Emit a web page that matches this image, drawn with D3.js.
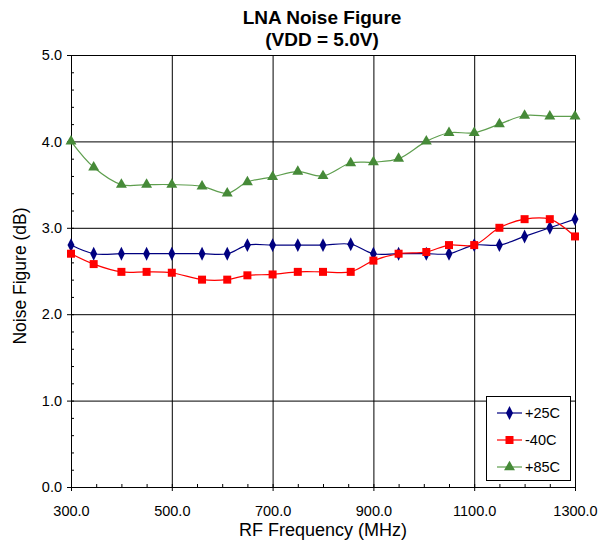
<!DOCTYPE html>
<html>
<head>
<meta charset="utf-8">
<script src="https://cdn.jsdelivr.net/npm/d3@7"></script>
<style>
  body { margin: 0; background: #fff; }
  svg { font-family: "Liberation Sans", Arial, sans-serif; }
</style>
</head>
<body>
<script>
'use strict';

// chart data
const freqs = [300, 345, 400, 450, 500, 560, 610, 650, 700, 750, 800, 855, 900, 950, 1005, 1050, 1100, 1150, 1200, 1250, 1300];
const nf25 = [2.8, 2.7, 2.7, 2.7, 2.7, 2.7, 2.7, 2.8, 2.8, 2.8, 2.8, 2.81, 2.7, 2.7, 2.7, 2.7, 2.8, 2.8, 2.9, 3.0, 3.1];
const nfM40 = [2.7, 2.58, 2.49, 2.49, 2.48, 2.4, 2.4, 2.45, 2.46, 2.49, 2.49, 2.49, 2.62, 2.7, 2.72, 2.8, 2.8, 3.0, 3.1, 3.1, 2.9];
const nf85 = [4.0, 3.7, 3.5, 3.5, 3.5, 3.48, 3.4, 3.53, 3.59, 3.65, 3.6, 3.75, 3.76, 3.8, 4.0, 4.1, 4.1, 4.2, 4.3, 4.29, 4.29];
const seriesNames = ['+25C', '-40C', '+85C'];
const xTicks = [300, 500, 700, 900, 1100, 1300];
const yTicks = [0, 1, 2, 3, 4, 5];

(function() {

  const width = 598, height = 543;
  const plotLeft = 71, plotRight = 575, plotTop = 55, plotBottom = 487;
  const font = '"Liberation Sans", Arial, sans-serif';

  const series = [
    { name: seriesNames[0], values: nf25, line: '#000080', fill: '#000080', symbol: d3.symbolDiamond, size: 42 },
    { name: seriesNames[1], values: nfM40, line: '#FF0000', fill: '#FF0000', symbol: d3.symbolSquare, size: 64 },
    { name: seriesNames[2], values: nf85, line: '#5E9E4E', fill: '#468A38', symbol: d3.symbolTriangle, size: 52 }
  ];

  const svg = d3.select('body').append('svg')
    .attr('width', width)
    .attr('height', height);

  const x = d3.scaleLinear().domain([300, 1300]).range([plotLeft, plotRight]);
  const y = d3.scaleLinear().domain([0, 5]).range([plotBottom, plotTop]);

  // title
  svg.append('text')
    .attr('x', 322).attr('y', 24)
    .attr('text-anchor', 'middle')
    .style('font-size', '19px').style('font-weight', 'bold')
    .text('LNA Noise Figure');
  svg.append('text')
    .attr('x', 322).attr('y', 46)
    .attr('text-anchor', 'middle')
    .style('font-size', '19px').style('font-weight', 'bold')
    .text('(VDD = 5.0V)');

  // gridlines
  svg.append('g').selectAll('line')
    .data(yTicks.slice(1))
    .join('line')
    .attr('x1', plotLeft).attr('x2', plotRight)
    .attr('y1', d => y(d) + 0.5).attr('y2', d => y(d) + 0.5)
    .attr('stroke', '#000').attr('stroke-width', 1);

  svg.append('g').selectAll('line')
    .data(xTicks.slice(1))
    .join('line')
    .attr('x1', d => x(d) + 0.5).attr('x2', d => x(d) + 0.5)
    .attr('y1', plotTop).attr('y2', plotBottom)
    .attr('stroke', '#000').attr('stroke-width', 1);

  // minor ticks (inside the plot)
  svg.append('g').selectAll('line')
    .data(d3.range(0, 5.01, 0.2))
    .join('line')
    .attr('x1', plotLeft).attr('x2', plotLeft + 3)
    .attr('y1', d => y(d) + 0.5).attr('y2', d => y(d) + 0.5)
    .attr('stroke', '#000');

  svg.append('g').selectAll('line')
    .data(d3.range(300, 1301, 50))
    .join('line')
    .attr('x1', d => x(d) + 0.5).attr('x2', d => x(d) + 0.5)
    .attr('y1', plotBottom).attr('y2', plotBottom - 3)
    .attr('stroke', '#000');

  // axes
  const xAxis = d3.axisBottom(x).tickValues(xTicks).tickFormat(d3.format('.1f')).tickSize(4);
  svg.append('g')
    .attr('transform', `translate(0,${plotBottom})`)
    .call(xAxis)
    .call(g => g.select('.domain').attr('stroke', '#000'))
    .call(g => g.selectAll('text')
      .attr('y', 29).attr('dy', 0)
      .style('font-size', '14.5px').style('font-family', font).attr('fill', '#000'));

  const yAxis = d3.axisLeft(y).tickValues(yTicks).tickFormat(d3.format('.1f')).tickSize(4).tickPadding(5);
  svg.append('g')
    .attr('transform', `translate(${plotLeft},0)`)
    .call(yAxis)
    .call(g => g.select('.domain').attr('stroke', '#000'))
    .call(g => g.selectAll('text').style('font-size', '14.5px').style('font-family', font).attr('fill', '#000'));

  // axis labels
  svg.append('text')
    .attr('x', x(800)).attr('y', 536)
    .attr('text-anchor', 'middle')
    .style('font-size', '18px')
    .text('RF Frequency (MHz)');

  svg.append('text')
    .attr('transform', 'translate(26, 276) rotate(-90)')
    .attr('text-anchor', 'middle')
    .style('font-size', '17.5px')
    .text('Noise Figure (dB)');

  // smoothed lines and markers
  const line = d3.line()
    .x((d, i) => x(freqs[i]))
    .y(d => y(d))
    .curve(d3.curveCatmullRom.alpha(0.5));

  series.forEach(s => {
    svg.append('path')
      .datum(s.values)
      .attr('d', line)
      .attr('fill', 'none')
      .attr('stroke', s.line)
      .attr('stroke-width', 1.2);
  });

  series.forEach(s => {
    svg.append('g').selectAll('path')
      .data(s.values)
      .join('path')
      .attr('transform', (d, i) => `translate(${x(freqs[i])},${y(d)})` + (s.symbol === d3.symbolDiamond ? ' scale(1,1.15)' : ''))
      .attr('d', d3.symbol().type(s.symbol).size(s.size))
      .attr('fill', s.fill);
  });

  // legend
  const legend = svg.append('g');
  legend.append('rect')
    .attr('x', 486.5).attr('y', 396.5)
    .attr('width', 84).attr('height', 84)
    .attr('fill', '#fff').attr('stroke', '#000');

  series.forEach((s, i) => {
    const ly = 413 + i * 27;
    legend.append('line')
      .attr('x1', 497).attr('x2', 522)
      .attr('y1', ly).attr('y2', ly)
      .attr('stroke', s.line).attr('stroke-width', 1.2);
    legend.append('path')
      .attr('transform', `translate(509.5,${ly})` + (s.symbol === d3.symbolDiamond ? ' scale(1,1.15)' : ''))
      .attr('d', d3.symbol().type(s.symbol).size(s.size))
      .attr('fill', s.fill);
    legend.append('text')
      .attr('x', 525).attr('y', ly + 5)
      .style('font-size', '14.5px')
      .text(s.name);
  });

})();
</script>
</body>
</html>
